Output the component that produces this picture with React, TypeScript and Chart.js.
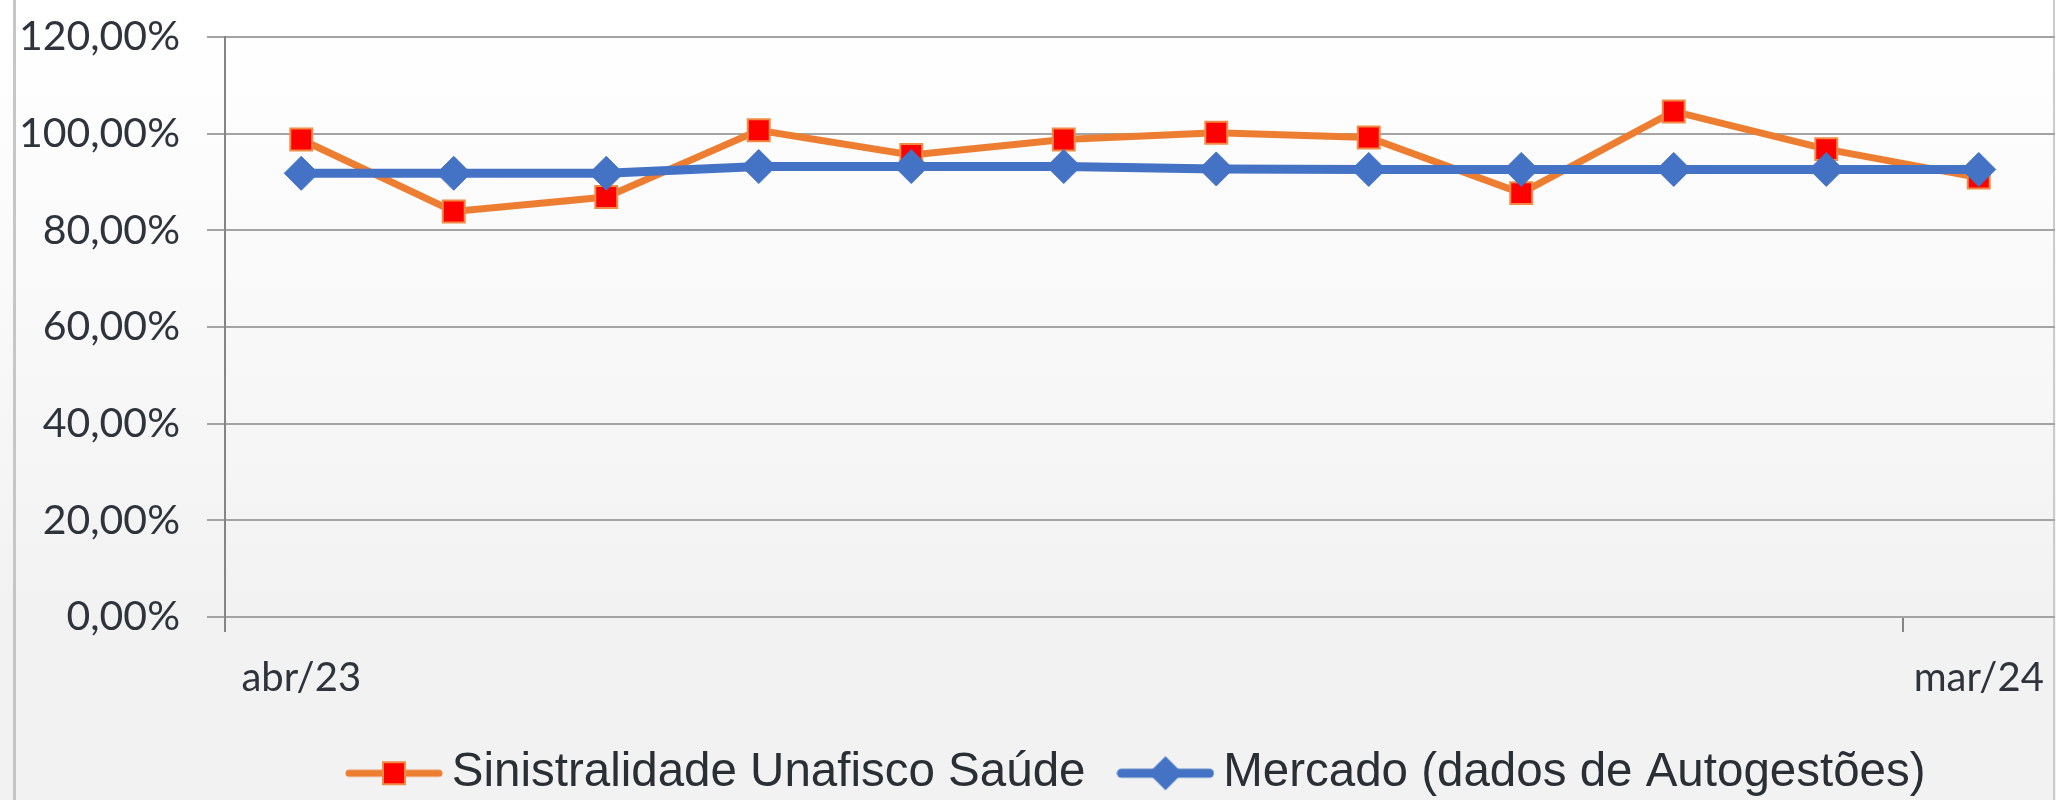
import React, { useEffect, useRef } from 'react';
import { Chart, registerables } from 'chart.js';

Chart.register(...registerables);

const months = ['abr/23', 'mai/23', 'jun/23', 'jul/23', 'ago/23', 'set/23', 'out/23', 'nov/23', 'dez/23', 'jan/24', 'fev/24', 'mar/24'];
const sinistralidade = [98.8, 83.9, 86.9, 100.7, 95.6, 98.8, 100.2, 99.2, 87.7, 104.6, 96.8, 90.9];
const mercado = [91.8, 91.8, 91.8, 93.2, 93.2, 93.2, 92.7, 92.6, 92.6, 92.6, 92.6, 92.6];
const seriesNames = ['Sinistralidade Unafisco Saúde', 'Mercado (dados de Autogestões)'];
const yMin = 0;
const yMax = 120;
const yStep = 20;

const ORANGE = '#ED7D31';
const RED = '#FF0000';
const BLUE = '#4472C4';
const TEXT = '#2f343c';
const GRID = '#a4a4a4';
const AXIS = '#858585';

function legendIcon(kind: 'square' | 'diamond'): HTMLCanvasElement {
  const c = document.createElement('canvas');
  c.width = 98;
  c.height = 40;
  const ctx = c.getContext('2d')!;
  ctx.lineCap = 'round';
  const cy = 20;
  if (kind === 'square') {
    ctx.strokeStyle = ORANGE;
    ctx.lineWidth = 7;
    ctx.beginPath();
    ctx.moveTo(4, cy);
    ctx.lineTo(94, cy);
    ctx.stroke();
    ctx.fillStyle = RED;
    ctx.fillRect(38, cy - 11, 22, 22);
    ctx.strokeStyle = '#F08A45';
    ctx.lineWidth = 2;
    ctx.strokeRect(38, cy - 11, 22, 22);
  } else {
    ctx.strokeStyle = BLUE;
    ctx.lineWidth = 9;
    ctx.beginPath();
    ctx.moveTo(5, cy);
    ctx.lineTo(93, cy);
    ctx.stroke();
    ctx.fillStyle = BLUE;
    ctx.beginPath();
    ctx.moveTo(49, cy - 17);
    ctx.lineTo(66, cy);
    ctx.lineTo(49, cy + 17);
    ctx.lineTo(32, cy);
    ctx.closePath();
    ctx.fill();
  }
  return c;
}

const backgroundPlugin = {
  id: 'bgPlugin',
  beforeDraw(chart: any) {
    const { ctx, width, height } = chart;
    ctx.save();
    const g = ctx.createLinearGradient(0, 0, 0, 600);
    g.addColorStop(0, '#ffffff');
    g.addColorStop(0.35, '#fbfbfb');
    g.addColorStop(1, '#f2f2f2');
    ctx.fillStyle = g;
    ctx.fillRect(0, 0, width, height);
    ctx.fillStyle = '#c6c6c6';
    ctx.fillRect(13, 0, 3, height);
    ctx.fillStyle = '#cccccc';
    ctx.fillRect(2053, 0, 2, height);
    ctx.restore();
  },
};

const legendShiftPlugin = {
  id: 'legendShift',
  afterLayout(chart: any) {
    const l = chart.legend;
    if (l) {
      l.left += 314;
      l.right += 314;
    }
  },
};

export default function App() {
  const ref = useRef<HTMLCanvasElement>(null);

  useEffect(() => {
    document.body.style.margin = '0';
    const icons = [legendIcon('square'), legendIcon('diamond')];
    const chart = new Chart(ref.current!, {
      type: 'line',
      data: {
        labels: months,
        datasets: [
          {
            label: seriesNames[0],
            data: sinistralidade,
            borderColor: ORANGE,
            backgroundColor: RED,
            borderWidth: 7,
            pointStyle: 'rect',
            pointRadius: 15.5,
            pointHoverRadius: 15.5,
            pointBackgroundColor: RED,
            pointBorderColor: '#F08A45',
            pointBorderWidth: 2,
            tension: 0,
            fill: false,
            order: 1,
          },
          {
            label: seriesNames[1],
            data: mercado,
            borderColor: BLUE,
            backgroundColor: BLUE,
            borderWidth: 9,
            pointStyle: 'rectRot',
            pointRadius: 17,
            pointHoverRadius: 17,
            pointBackgroundColor: BLUE,
            pointBorderColor: BLUE,
            pointBorderWidth: 1,
            tension: 0,
            fill: false,
            order: 0,
          },
        ],
      },
      options: {
        responsive: false,
        animation: false,
        devicePixelRatio: 1,
        layout: { autoPadding: false, padding: { left: 0, right: 1, top: 37, bottom: 0 } },
        scales: {
          x: {
            type: 'category',
            offset: true,
            grid: {
              offset: true,
              drawOnChartArea: false,
              drawTicks: true,
              tickLength: 15,
              lineWidth: 2,
              color: (c: any) => (c.index === 0 || c.index === months.length - 1 ? AXIS : 'rgba(0,0,0,0)'),
            },
            border: { display: false },
            ticks: {
              autoSkip: false,
              maxRotation: 0,
              minRotation: 0,
              padding: 0,
              color: TEXT,
              font: { family: 'Lato', size: 40, lineHeight: 2.3 },
              callback: (_v: any, i: number) => (i === 0 || i === months.length - 1 ? months[i] : ''),
            },
            afterFit: (s: any) => {
              s.height = 86.5;
              s.paddingLeft = 0;
              s.paddingRight = 0;
            },
          },
          y: {
            min: yMin,
            max: yMax,
            grid: {
              color: GRID,
              lineWidth: 2,
              drawTicks: true,
              tickLength: 18,
            },
            border: { display: true, color: AXIS, width: 2 },
            ticks: {
              stepSize: yStep,
              padding: 27,
              color: TEXT,
              font: { family: 'Lato', size: 41 },
              callback: (v: any) => Number(v).toFixed(2).replace('.', ',') + '%',
            },
            afterFit: (s: any) => {
              s.width = 225;
              s.paddingTop = 0;
              s.paddingBottom = 0;
            },
          },
        },
        plugins: {
          tooltip: { enabled: false },
          legend: {
            display: true,
            position: 'bottom',
            align: 'start',
            labels: {
              usePointStyle: true,
              pointStyleWidth: 68,
              padding: 46,
              color: '#2a2e35',
              font: { family: "'Liberation Sans', Arial, sans-serif", size: 47.5, lineHeight: 1 },
              generateLabels: () =>
                seriesNames.map((name, i) => ({
                  text: name,
                  pointStyle: icons[i],
                  datasetIndex: i,
                  hidden: false,
                  fillStyle: i === 0 ? RED : BLUE,
                  strokeStyle: i === 0 ? ORANGE : BLUE,
                  lineWidth: 0,
                  fontColor: '#2a2e35',
                })),
            },
          },
        },
      },
      plugins: [backgroundPlugin, legendShiftPlugin],
    } as any);
    return () => chart.destroy();
  }, []);

  return (
    <div style={{ width: 2056, height: 800, overflow: 'hidden' }}>
      <canvas ref={ref} width={2056} height={807} style={{ display: 'block' }} />
    </div>
  );
}
